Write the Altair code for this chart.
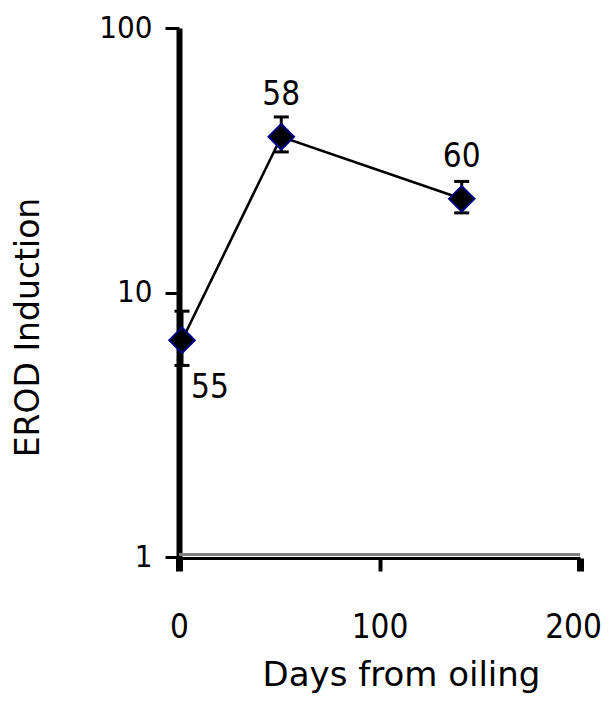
import altair as alt
import pandas as pd

# Values
days = [1.5, 51, 141]
erod = [6.6, 38.8, 22.6]
err_hi = [8.5, 46.1, 26.3]
err_lo = [5.3, 34.0, 20.0]
n_labels = ["55", "58", "60"]
x_ticks = [0, 100, 200]
y_ticks = [1, 10, 100]

df = pd.DataFrame({"days": days, "erod": erod, "hi": err_hi, "lo": err_lo, "n": n_labels})
base_df = pd.DataFrame({"x0": [0], "x1": [200], "y": [1]})

FONT = "DejaVu Sans"
NUMFONT = "DejaVu Sans Condensed, Liberation Sans Narrow, DejaVu Sans"

xscale = alt.Scale(domain=[0, 200], nice=False, zero=False)
yscale = alt.Scale(type="log", domain=[1, 100], nice=False)

xaxis = alt.Axis(
    values=x_ticks, format="d", title="Days from oiling",
    tickSize=13, tickWidth={"condition": {"test": "datum.value == 100", "value": 4}, "value": 7},
    labelOffset={"condition": {"test": "datum.value == 200", "value": -7}, "value": 0},
    domainWidth=3, offset=1, labelPadding=40, labelFontSize=33, labelFont=NUMFONT,
    titleFont=FONT, titleFontSize=34, titleFontWeight="normal",
    titleX=222, titleY=127, titleBaseline="alphabetic", titleAlign="center",
    labelFlush=False,
)
yaxis = alt.Axis(
    values=y_ticks, format="d", title="EROD Induction",
    tickSize=14, tickWidth=3, domainWidth=6, labelPadding=13,
    labelFontSize=31, labelFont=NUMFONT,
    titleFont=FONT, titleFontSize=33, titleFontWeight="normal",
    titleX=-141, titleY=299, titleBaseline="alphabetic", titleAlign="center", titleAngle=-90,
    labelFlush=False,
)

x = alt.X("days:Q", scale=xscale, axis=xaxis)
y = alt.Y("erod:Q", scale=yscale, axis=yaxis)

gray = alt.Chart(base_df).mark_rule(color="#808080", strokeWidth=3, yOffset=-2.5).encode(
    x=alt.X("x0:Q", scale=xscale), x2="x1:Q", y=alt.Y("y:Q", scale=yscale)
)

line = alt.Chart(df).mark_line(color="black", strokeWidth=2.6).encode(x=x, y=y)

bars = alt.Chart(df).mark_rule(color="black", strokeWidth=3, opacity=1).encode(
    x=alt.X("days:Q", scale=xscale), y=alt.Y("lo:Q", scale=yscale), y2="hi:Q"
)
cap_hi = alt.Chart(df).mark_tick(color="black", size=15, thickness=3, orient="horizontal", opacity=1).encode(
    x=alt.X("days:Q", scale=xscale), y=alt.Y("hi:Q", scale=yscale)
)
cap_lo = alt.Chart(df).mark_tick(color="black", size=15, thickness=3, orient="horizontal", opacity=1).encode(
    x=alt.X("days:Q", scale=xscale), y=alt.Y("lo:Q", scale=yscale)
)

points = alt.Chart(df).mark_point(
    shape="diamond", size=650, filled=True, fill="black", stroke="#000080", strokeWidth=2, opacity=1
).encode(x=x, y=y)

lab_below = alt.Chart(df).transform_filter("datum.n == '55'").mark_text(
    font=NUMFONT, fontSize=33, color="black", dx=28, dy=48, baseline="middle", align="center"
).encode(x=x, y=y, text="n:N")
lab_above = alt.Chart(df).transform_filter("datum.n != '55'").mark_text(
    font=NUMFONT, fontSize=33, color="black", dx=0, dy=-42, baseline="middle", align="center"
).encode(x=x, y=y, text="n:N")

chart = alt.layer(gray, line, bars, cap_hi, cap_lo, points, lab_below, lab_above).properties(
    width=401, height=529,
    autosize=alt.AutoSizeParams(type="none"),
    padding={"left": 171, "top": 20, "right": 21, "bottom": 137},
).configure_view(stroke=None).configure_axis(
    domainColor="black", tickColor="black", labelColor="black", titleColor="black", grid=False
)

chart.save("out.html", embed_options={"renderer": "svg", "actions": False})
